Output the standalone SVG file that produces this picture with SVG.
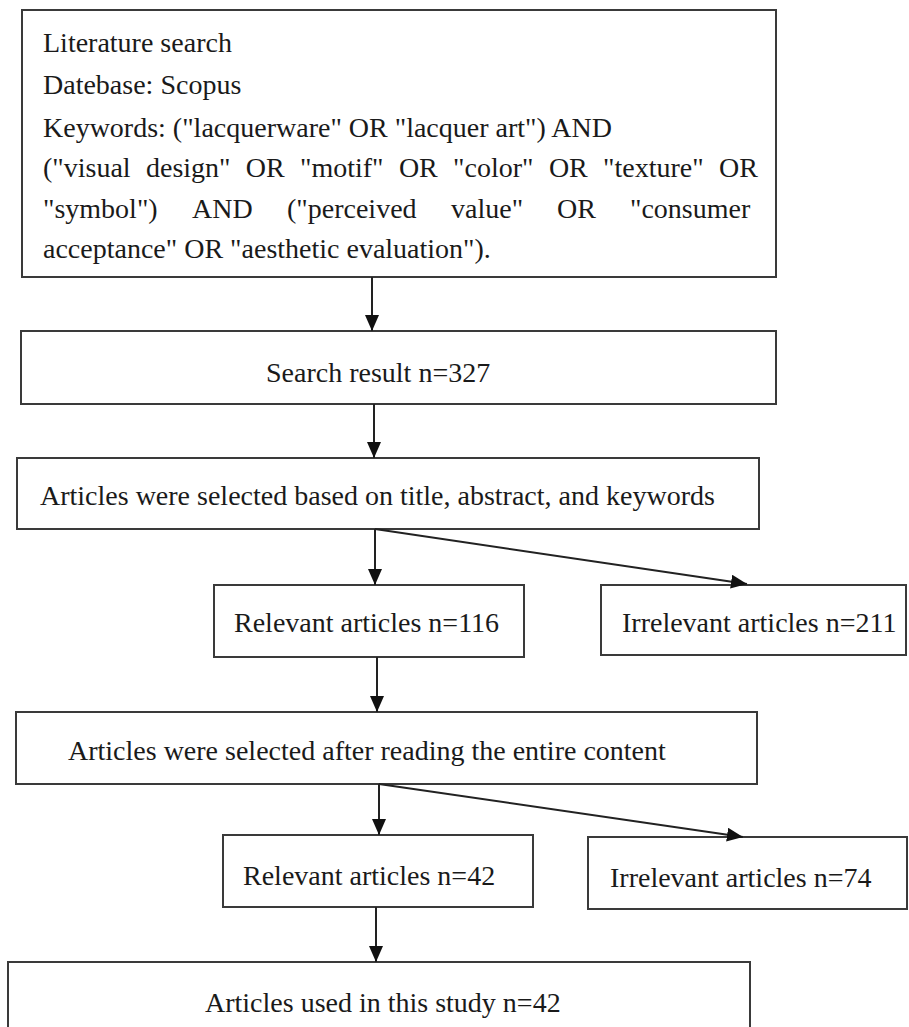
<svg xmlns="http://www.w3.org/2000/svg" width="909" height="1027" viewBox="0 0 909 1027">
<defs>
<marker id="arr" markerUnits="userSpaceOnUse" markerWidth="16" markerHeight="14" viewBox="0 0 16 14" refX="16" refY="7" orient="auto">
<path d="M0,0 L16,7 L0,14 Z" fill="#111"/>
</marker>
<style>
.box{fill:#fff;stroke:#3a3a3a;stroke-width:2}
.t{font-family:"Liberation Serif","Times New Roman",serif;font-size:28px;fill:#1a1a1a}
.c{stroke:#222;stroke-width:2;fill:none;marker-end:url(#arr)}
</style>
</defs>
<rect width="909" height="1027" fill="#fff"/>
<g id="n-search">
<rect class="box" x="22" y="10" width="754" height="267"/>
<text class="t" x="43" y="52">Literature search</text>
<text class="t" x="43" y="94">Datebase: Scopus</text>
<text class="t" x="43" y="137">Keywords: ("lacquerware" OR "lacquer art") AND</text>
<text class="t" y="177"><tspan x="43">("visual</tspan><tspan x="146">design"</tspan><tspan x="245.8">OR</tspan><tspan x="300">"motif"</tspan><tspan x="398.9">OR</tspan><tspan x="453.1">"color"</tspan><tspan x="548.9">OR</tspan><tspan x="603.1">"texture"</tspan><tspan x="719">OR</tspan></text>
<text class="t" y="218"><tspan x="43">"symbol")</tspan><tspan x="192">AND</tspan><tspan x="287">("perceived</tspan><tspan x="451">value"</tspan><tspan x="557">OR</tspan><tspan x="630">"consumer</tspan></text>
<text class="t" x="43" y="258">acceptance" OR "aesthetic evaluation").</text>
</g>
<g id="n-result">
<rect class="box" x="21" y="331" width="755" height="73"/>
<text class="t" x="266" y="382">Search result n=327</text>
</g>
<g id="n-screen1">
<rect class="box" x="17" y="458" width="742" height="71"/>
<text class="t" x="40" y="505">Articles were selected based on title, abstract, and keywords</text>
</g>
<g id="n-rel116">
<rect class="box" x="214" y="585" width="310" height="72"/>
<text class="t" x="234" y="632">Relevant articles n=116</text>
</g>
<g id="n-irr211">
<rect class="box" x="601" y="585" width="305" height="70"/>
<text class="t" x="622" y="632">Irrelevant articles n=211</text>
</g>
<g id="n-screen2">
<rect class="box" x="16" y="712" width="741" height="72"/>
<text class="t" x="68" y="760">Articles were selected after reading the entire content</text>
</g>
<g id="n-rel42">
<rect class="box" x="223" y="835" width="310" height="72"/>
<text class="t" x="243" y="885">Relevant articles n=42</text>
</g>
<g id="n-irr74">
<rect class="box" x="588" y="837" width="319" height="72"/>
<text class="t" x="610" y="887">Irrelevant articles n=74</text>
</g>
<g id="n-final">
<rect class="box" x="8" y="962" width="742" height="80"/>
<text class="t" x="205" y="1012">Articles used in this study n=42</text>
</g>
<g id="connectors">
<line class="c" x1="372" y1="277" x2="372" y2="331"/>
<line class="c" x1="374" y1="404" x2="374" y2="458"/>
<line class="c" x1="375" y1="529" x2="375" y2="585"/>
<line class="c" x1="375" y1="529" x2="747" y2="584"/>
<line class="c" x1="377" y1="657" x2="377" y2="712"/>
<line class="c" x1="379" y1="784" x2="379" y2="835"/>
<line class="c" x1="379" y1="784" x2="743" y2="837"/>
<line class="c" x1="376" y1="907" x2="376" y2="962"/>
</g>
</svg>
